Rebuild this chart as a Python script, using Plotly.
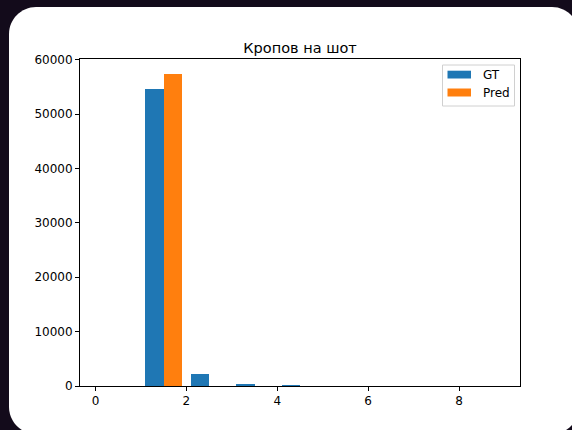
import plotly.graph_objects as go

# Data (histogram bins, left edges; bin width = 1)
bins = [0, 1, 2, 3, 4, 5, 6, 7, 8]
gt_counts = [0, 54600, 2150, 330, 160, 0, 0, 0, 0]
pred_counts = [0, 57400, 0, 0, 0, 0, 0, 0, 0]
series_names = ["GT", "Pred"]
colors = ["#1f77b4", "#ff7f0e"]
title_text = "Кропов на шот"
x_ticks = [0, 2, 4, 6, 8]
y_ticks = [0, 10000, 20000, 30000, 40000, 50000, 60000]

W, H = 572, 430
ML, MR, MT, MB = 80, 52, 59, 44
PW, PH = W - ML - MR, H - MT - MB


def px_x(px):
    return (px - ML) / PW


def px_y(py):
    return (H - MB - py) / PH


def rounded_rect_path(x0, y0, x1, y1, r):
    k = 0.55

    def P(x, y):
        return f"{px_x(x):.5f},{px_y(y):.5f}"
    d = f"M {P(x0 + r, y0)} L {P(x1 - r, y0)} "
    d += f"C {P(x1 - r + k*r, y0)} {P(x1, y0 + r - k*r)} {P(x1, y0 + r)} "
    d += f"L {P(x1, y1 - r)} "
    d += f"C {P(x1, y1 - r + k*r)} {P(x1 - r + k*r, y1)} {P(x1 - r, y1)} "
    d += f"L {P(x0 + r, y1)} "
    d += f"C {P(x0 + r - k*r, y1)} {P(x0, y1 - r + k*r)} {P(x0, y1 - r)} "
    d += f"L {P(x0, y0 + r)} "
    d += f"C {P(x0, y0 + r - k*r)} {P(x0 + r - k*r, y0)} {P(x0 + r, y0)} Z"
    return d


fig = go.Figure()
fig.add_trace(go.Bar(x=bins, y=gt_counts, name=series_names[0], offset=0.1, width=0.4,
                     marker=dict(color=colors[0], line=dict(width=0)), showlegend=False))
fig.add_trace(go.Bar(x=bins, y=pred_counts, name=series_names[1], offset=0.5, width=0.4,
                     marker=dict(color=colors[1], line=dict(width=0)), showlegend=False))

shapes = []
# white rounded card
shapes.append(dict(type="path", xref="paper", yref="paper", layer="below",
                   path=rounded_rect_path(9, 7, 579, 434, 27),
                   fillcolor="white", line=dict(width=0)))
# legend frame
shapes.append(dict(type="rect", xref="paper", yref="paper",
                   x0=px_x(442.5), x1=px_x(514.5), y0=px_y(106), y1=px_y(65),
                   fillcolor="rgba(255,255,255,0.8)", line=dict(color="#d0d0d0", width=1)))
patch_rows = [(70.7, 78.5), (88.5, 96.5)]
annotations = []
for (ya, yb), c, name in zip(patch_rows, colors, series_names):
    shapes.append(dict(type="rect", xref="paper", yref="paper",
                       x0=px_x(447.5), x1=px_x(471), y0=px_y(yb), y1=px_y(ya),
                       fillcolor=c, line=dict(width=0)))
    annotations.append(dict(xref="paper", yref="paper", x=px_x(481), y=px_y((ya + yb) / 2),
                            text=name, showarrow=False, xanchor="left", yanchor="middle",
                            font=dict(family="DejaVu Sans", size=12, color="#000")))

fig.update_layout(
    width=W, height=H,
    margin=dict(l=ML, r=MR, t=MT, b=MB),
    paper_bgcolor="#130b1b",
    plot_bgcolor="rgba(0,0,0,0)",
    barmode="overlay",
    bargap=0,
    title=dict(text=title_text, x=px_x(300), xref="paper", xanchor="center",
               y=1, yref="paper", yanchor="bottom", pad=dict(b=6),
               font=dict(family="DejaVu Sans", size=14.5, color="#000")),
    font=dict(family="DejaVu Sans", size=12, color="#000"),
    shapes=shapes,
    annotations=annotations,
    xaxis=dict(range=[-0.34, 9.34], tickvals=x_ticks, ticktext=[str(v) for v in x_ticks],
               showgrid=False, zeroline=False, showline=True, linecolor="#000", linewidth=1,
               mirror=True, ticks="outside", ticklen=4, tickcolor="#000", tickwidth=1),
    yaxis=dict(range=[0, 60150], tickvals=y_ticks, ticktext=[str(v) for v in y_ticks],
               showgrid=False, zeroline=False, showline=True, linecolor="#000", linewidth=1,
               mirror=True, ticks="outside", ticklen=4, tickcolor="#000", tickwidth=1),
)

fig.write_html("out.html", config={"displayModeBar": False},
               post_script="document.body.style.margin='0';document.body.style.overflow='hidden';")
